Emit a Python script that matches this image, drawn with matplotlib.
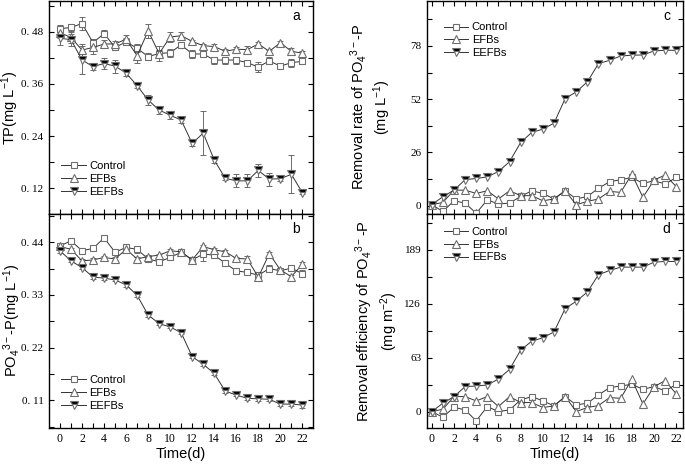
import numpy as np
import matplotlib
matplotlib.use("Agg")
import matplotlib.pyplot as plt
from matplotlib.ticker import MultipleLocator, FuncFormatter, AutoMinorLocator

plt.rcParams['font.family'] = ['Liberation Sans', 'DejaVu Sans']
plt.rcParams['mathtext.fontset'] = 'custom'
plt.rcParams['mathtext.rm'] = 'Liberation Sans'
plt.rcParams['mathtext.it'] = 'Liberation Sans:italic'

days = np.arange(0, 23)
series_names = ["Control", "EFBs", "EEFBs"]

# panel a: TP (mg/L)
tp_control = [0.487, 0.490, 0.499, 0.455, 0.476, 0.444, 0.457, 0.442, 0.423, 0.430, 0.432, 0.450,
              0.429, 0.429, 0.415, 0.415, 0.415, 0.409, 0.399, 0.413, 0.401, 0.409, 0.412]
tp_efbs = [0.478, 0.467, 0.438, 0.444, 0.452, 0.452, 0.463, 0.425, 0.482, 0.430, 0.468, 0.471,
           0.458, 0.448, 0.446, 0.435, 0.440, 0.439, 0.452, 0.435, 0.455, 0.435, 0.431]
tp_eefbs = [0.465, 0.462, 0.415, 0.400, 0.407, 0.401, 0.385, 0.356, 0.323, 0.300, 0.288, 0.277,
            0.223, 0.247, 0.185, 0.143, 0.137, 0.137, 0.161, 0.141, 0.142, 0.152, 0.110]
tp_control_err = [0.009, 0.009, 0.014, 0.009, 0.009, 0.006, 0.008, 0.009, 0.009, 0.009, 0.009, 0.006,
                  0.009, 0.005, 0.008, 0.008, 0.008, 0.005, 0.012, 0.008, 0.004, 0.009, 0.006]
tp_efbs_err = [0.012, 0.012, 0.014, 0.014, 0.008, 0.006, 0.009, 0.017, 0.017, 0.017, 0.012, 0.008,
               0.004, 0.004, 0.006, 0.006, 0.006, 0.008, 0.004, 0.004, 0.004, 0.008, 0.004]
tp_eefbs_err = [0.015, 0.014, 0.033, 0.008, 0.012, 0.015, 0.006, 0.006, 0.012, 0.009, 0.008, 0.008,
                0.006, 0.050, 0.006, 0.005, 0.015, 0.015, 0.014, 0.015, 0.006, 0.044, 0.004]

# panel b: PO4-P (mg/L)
po4_control = [0.432, 0.443, 0.422, 0.427, 0.449, 0.419, 0.429, 0.425, 0.405, 0.399, 0.408, 0.419,
               0.403, 0.415, 0.413, 0.396, 0.380, 0.377, 0.371, 0.385, 0.380, 0.386, 0.374]
po4_efbs = [0.431, 0.425, 0.401, 0.403, 0.408, 0.405, 0.425, 0.405, 0.410, 0.413, 0.422, 0.420,
            0.403, 0.431, 0.424, 0.420, 0.406, 0.405, 0.367, 0.416, 0.382, 0.368, 0.394]
po4_eefbs = [0.422, 0.401, 0.387, 0.367, 0.365, 0.361, 0.351, 0.329, 0.288, 0.270, 0.263, 0.251,
             0.201, 0.185, 0.166, 0.129, 0.121, 0.114, 0.113, 0.112, 0.102, 0.102, 0.100]
po4_control_err = [0.004, 0.004, 0.003, 0.003, 0.004, 0.003, 0.004, 0.007, 0.004, 0.004, 0.004, 0.003,
                   0.003, 0.014, 0.004, 0.003, 0.004, 0.003, 0.004, 0.007, 0.004, 0.004, 0.007]
po4_efbs_err = [0.004, 0.003, 0.004, 0.003, 0.003, 0.003, 0.004, 0.003, 0.004, 0.003, 0.004, 0.003,
                0.003, 0.004, 0.003, 0.003, 0.004, 0.007, 0.005, 0.004, 0.004, 0.004, 0.004]
po4_eefbs_err = [0.004, 0.003, 0.004, 0.003, 0.003, 0.003, 0.005, 0.004, 0.004, 0.003, 0.003, 0.003,
                 0.003, 0.003, 0.003, 0.003, 0.003, 0.003, 0.004, 0.004, 0.003, 0.003, 0.006]

# panel c: removal rate (mg/L)
rate_control = [0.5, -2.8, 2.4, 1.3, -3.7, 2.9, 0.8, 1.3, 4.5, 7.3, 6.0, 3.3,
                7.3, 3.3, 4.5, 8.5, 11.7, 12.7, 13.8, 10.9, 12.2, 10.6, 13.8]
rate_efbs = [0.5, 1.6, 7.6, 7.6, 6.0, 7.3, 3.3, 7.3, 4.9, 4.9, 2.4, 3.3,
             7.3, 0.5, 2.1, 3.3, 7.0, 6.5, 15.4, 4.1, 12.5, 15.0, 9.3]
rate_eefbs = [0.5, 4.4, 7.6, 12.7, 13.3, 14.1, 16.7, 21.5, 30.9, 35.8, 37.4, 40.3,
              52.3, 55.6, 60.5, 69.4, 71.0, 73.1, 73.5, 73.6, 75.6, 75.9, 75.9]

# panel d: removal efficiency (mg/m2)
eff_control = [0, -6.6, 5.0, 1.9, -10.9, 5.8, 0, 1.9, 13.6, 17.5, 12.4, 6.6,
               17.5, 7.8, 9.7, 19.4, 27.9, 29.9, 31.8, 26.0, 29.1, 24.1, 31.8]
eff_efbs = [0, 2.7, 17.5, 17.5, 12.4, 17.5, 5.8, 17.5, 10.5, 10.5, 4.7, 6.6,
            17.5, 0, 4.7, 7.0, 16.3, 15.5, 37.6, 8.9, 29.1, 36.1, 20.6]
eff_eefbs = [0, 9.7, 17.5, 29.1, 29.9, 31.0, 38.0, 49.3, 71.8, 82.3, 86.2, 93.1,
             120.3, 128.9, 139.7, 159.9, 164.9, 168.8, 168.8, 168.8, 174.6, 175.4, 175.4]

edge = '#6e6e6e'
styles = [
    dict(marker='s', markersize=5, markerfacecolor='white', markeredgecolor=edge),
    dict(marker='^', markersize=6, markerfacecolor='white', markeredgecolor=edge),
    dict(marker='v', markersize=6, markerfacecolor='black', markeredgecolor=edge,
         fillstyle='top', markerfacecoloralt='white'),
]

fig = plt.figure(figsize=(6.85, 4.65), dpi=100)
ax_a = fig.add_axes([0.0715, 0.540, 0.386, 0.458])
ax_b = fig.add_axes([0.0715, 0.080, 0.386, 0.460])
ax_c = fig.add_axes([0.623, 0.540, 0.374, 0.458])
ax_d = fig.add_axes([0.623, 0.080, 0.374, 0.460])


def draw(ax, ys, errs=None):
    for i, y in enumerate(ys):
        if errs is not None:
            ax.errorbar(days, y, yerr=errs[i], fmt='none', ecolor='#555555',
                        elinewidth=0.6, capsize=2, capthick=0.6, zorder=2)
        ax.plot(days, y, color='#333333', lw=0.7, markeredgewidth=0.8,
                label=series_names[i], zorder=3, **styles[i])


def tidy(ax, step, fmt, letter, ylabel, label_x, legend_anchor, show_x):
    ax.xaxis.set_major_locator(MultipleLocator(1))
    ax.yaxis.set_major_locator(MultipleLocator(step))
    ax.yaxis.set_minor_locator(AutoMinorLocator(2))
    ax.yaxis.set_major_formatter(FuncFormatter(fmt))
    ax.tick_params(which='both', direction='in', top=True, right=True, length=3.5, width=0.8)
    ax.tick_params(axis='y', pad=4)
    for lab in ax.get_yticklabels() + ax.get_xticklabels():
        lab.set_family('Liberation Serif')
        lab.set_fontsize(8)
    if show_x:
        ax.set_xticks(days)
        ax.set_xticklabels([str(d) if d % 2 == 0 else '' for d in days],
                           family='Liberation Serif', fontsize=8.5)
        ax.set_xlabel('Time(d)', fontsize=10.5, labelpad=2)
    else:
        ax.set_xticklabels([])
    for s in ax.spines.values():
        s.set_linewidth(1.0)
    ax.text(0.95, 0.93, letter, transform=ax.transAxes, ha='right', va='center', fontsize=10)
    ax.set_ylabel(ylabel, fontsize=10.5)
    ax.yaxis.set_label_coords(label_x, 0.5)
    loc = 'lower left' if legend_anchor[1] < 0.5 else 'upper left'
    ax.legend(loc=loc, bbox_to_anchor=legend_anchor, frameon=False, fontsize=8,
              handlelength=2.2, handletextpad=0.3, labelspacing=0.25, borderaxespad=0)


def dec_fmt(v, pos):
    return ('%.2f' % v).replace('.', '. ')


def int_fmt(v, pos):
    return '%d' % round(v)


draw(ax_a, [tp_control, tp_efbs, tp_eefbs], [tp_control_err, tp_efbs_err, tp_eefbs_err])
ax_a.set_xlim(-1, 23)
ax_a.set_ylim(0.061, 0.551)
tidy(ax_a, 0.12, dec_fmt, 'a', 'TP(mg L$^{-1}$)', -0.105, (0.03, 0.06), False)

draw(ax_b, [po4_control, po4_efbs, po4_eefbs], [po4_control_err, po4_efbs_err, po4_eefbs_err])
ax_b.set_xlim(-1, 23)
ax_b.set_ylim(0.0525, 0.499)
tidy(ax_b, 0.11, dec_fmt, 'b', 'PO$_4$$^{3-}$-P(mg L$^{-1}$)', -0.10, (0.03, 0.06), True)

draw(ax_c, [rate_control, rate_efbs, rate_eefbs])
ax_c.set_xlim(-0.45, 22.6)
ax_c.set_ylim(-4, 100)
tidy(ax_c, 26, int_fmt, 'c', 'Removal rate of PO$_4$$^{3-}$-P\n(mg L$^{-1}$)', -0.13,
     (0.05, 0.92), False)

draw(ax_d, [eff_control, eff_efbs, eff_eefbs])
ax_d.set_xlim(-0.45, 22.6)
ax_d.set_ylim(-19, 231)
tidy(ax_d, 63, int_fmt, 'd', 'Removal efficiency of PO$_4$$^{3-}$-P\n(mg m$^{-2}$)', -0.105,
     (0.05, 0.96), True)

fig.savefig('out.png', dpi=100)
